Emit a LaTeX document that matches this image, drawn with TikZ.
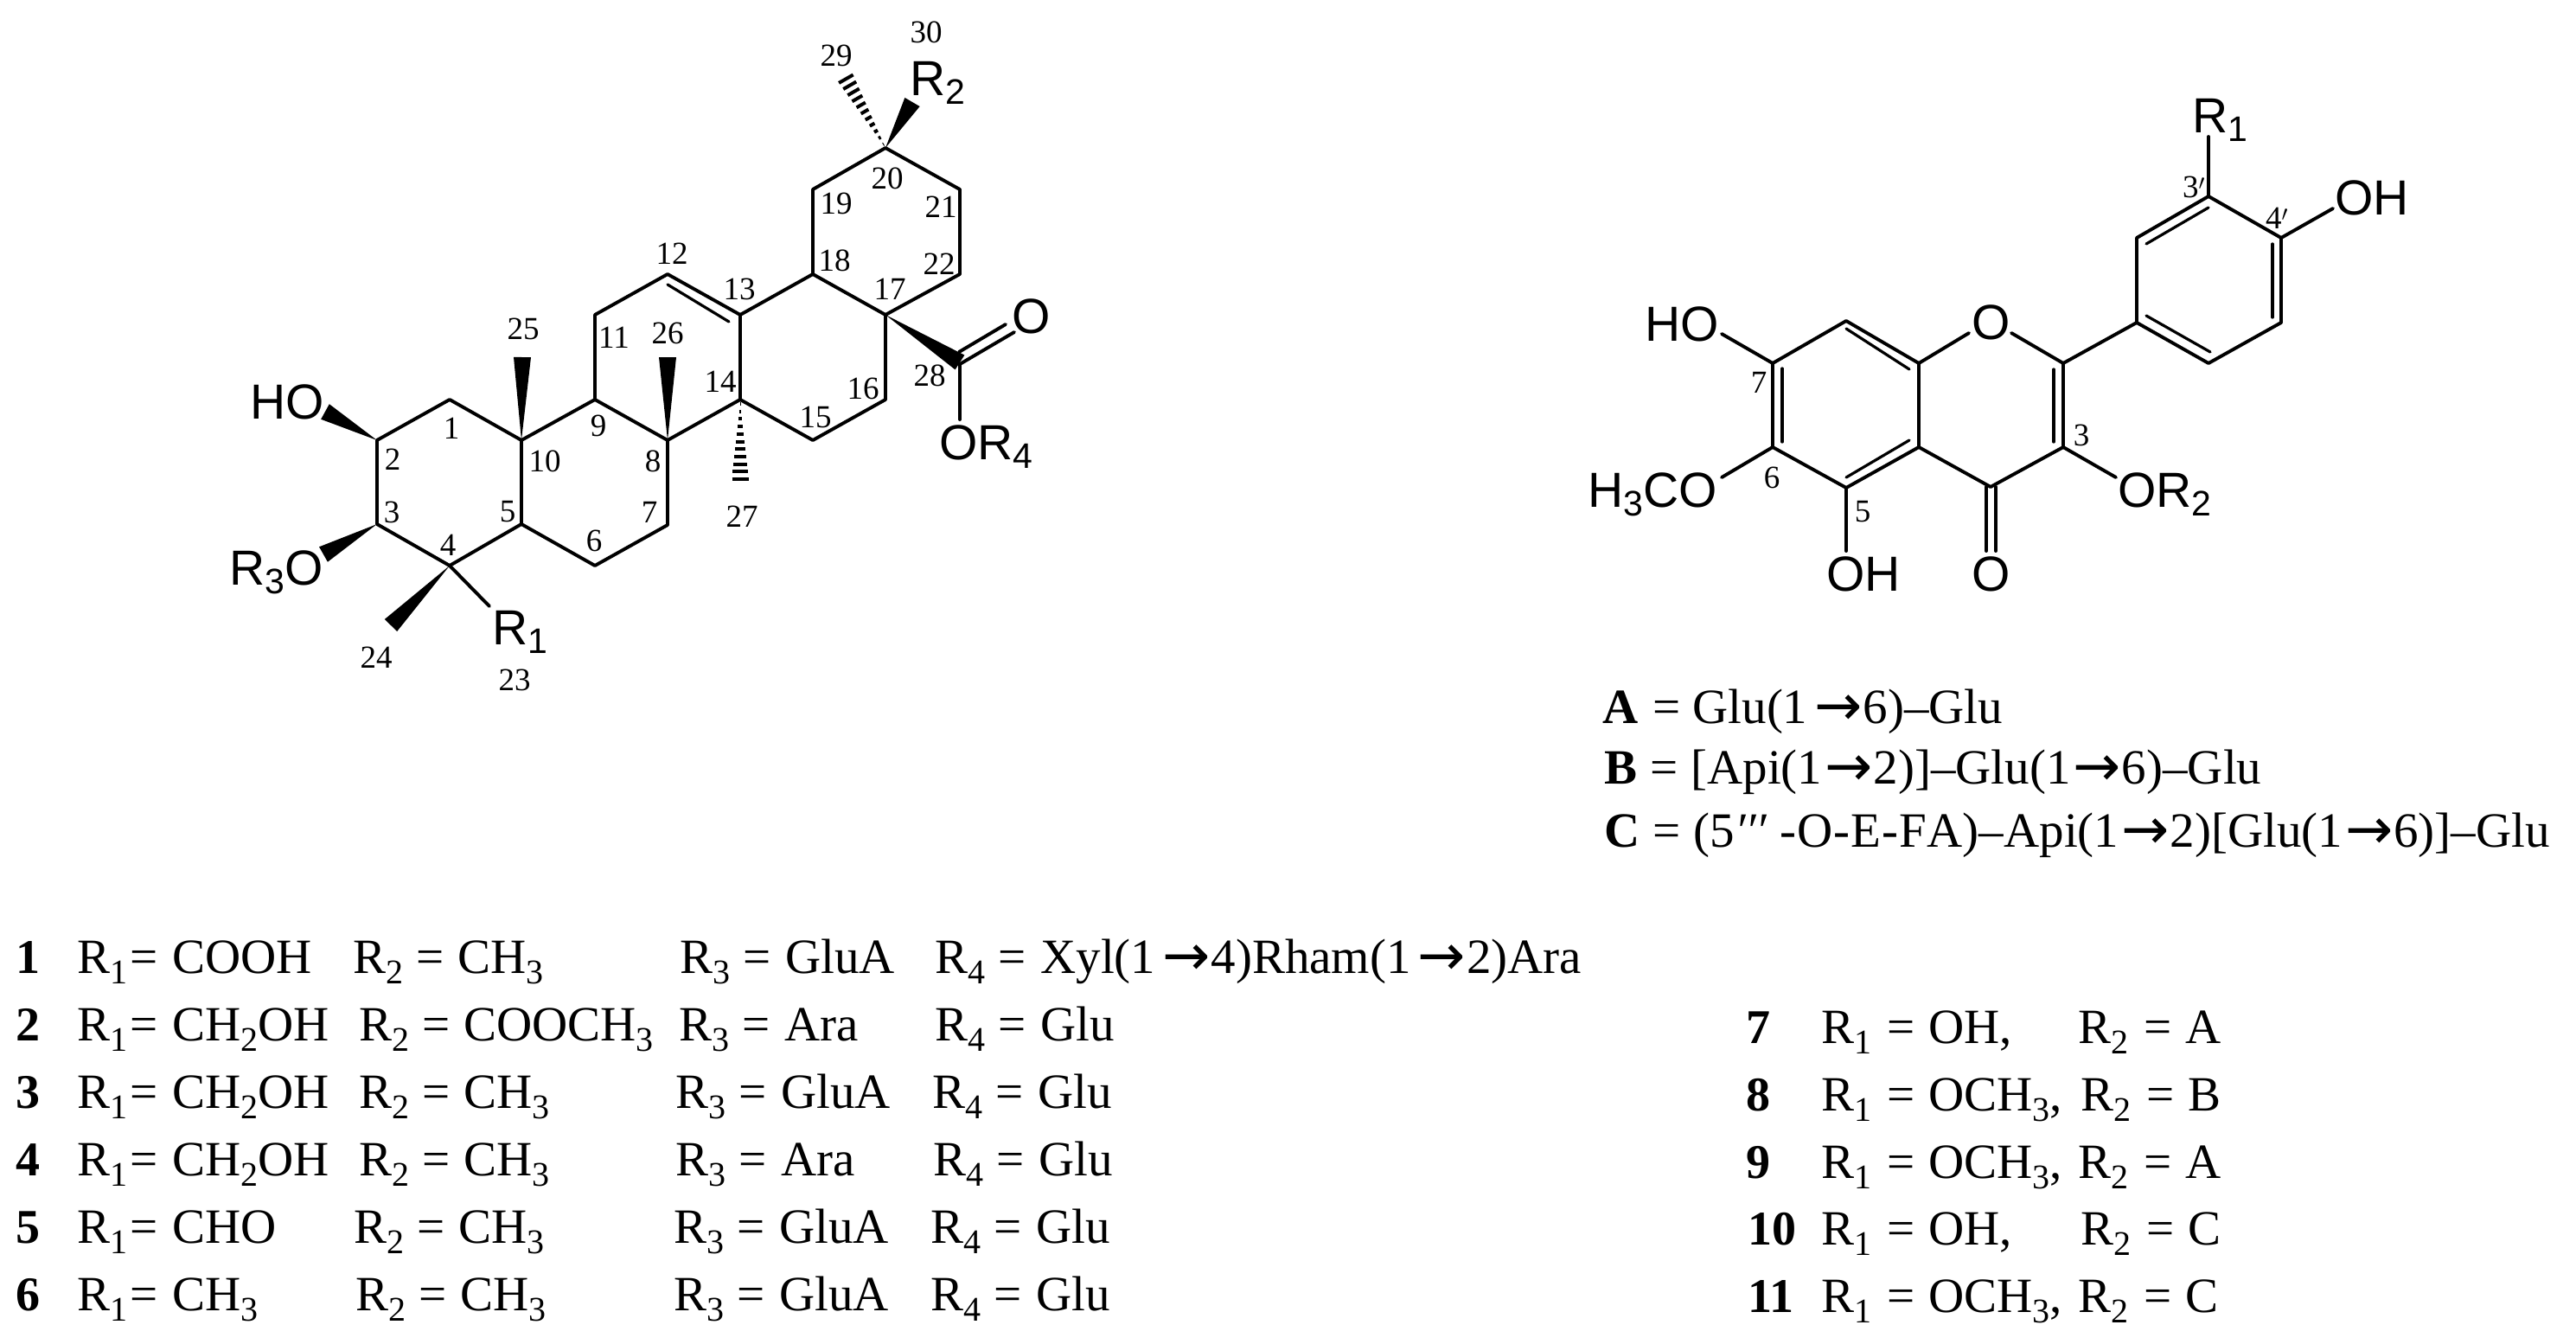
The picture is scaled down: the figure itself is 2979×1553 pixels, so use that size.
\documentclass[tikz,border=0pt]{standalone}
\usepackage{fontspec}
\setmainfont{Liberation Serif}
\setsansfont{Liberation Sans}
\newfontfamily\arrfont{DejaVu Sans}
\usetikzlibrary{calc}
\newcommand{\lsub}[1]{\raisebox{-12pt}{\fontsize{40}{40}\selectfont #1}}
\newcommand{\ssub}[1]{\raisebox{-10pt}{\fontsize{41}{41}\selectfont #1}}
\newcommand{\arr}{\kern 3pt{\arrfont\fontsize{66}{66}\selectfont \raisebox{-2pt}{→}}\kern 1pt\relax}
\newcommand{\eqq}{\kern 15pt=\kern 16pt\relax}
\newcommand{\deq}{\kern 17pt=\kern 17pt\relax}
\tikzset{
  x=1pt,y=-1pt,
  bond/.style={line width=3.9pt,line cap=round,line join=round,black},
  inner/.style={line width=3.2pt,line cap=round,black},
  atomlab/.style={anchor=base west,inner sep=0pt,font=\sffamily\fontsize{57}{60}\selectfont},
  numlab/.style={inner sep=0pt,font=\fontsize{37}{40}\selectfont},
  txt/.style={anchor=base west,inner sep=0pt,font=\fontsize{57}{60}\selectfont},
  btxt/.style={anchor=base west,inner sep=0pt,font=\bfseries\fontsize{56}{60}\selectfont},
}
\newcommand{\wedgebond}[3]{\fill[black] (#1) -- ($(#2)!#3pt!90:(#1)$) -- ($(#2)!#3pt!-90:(#1)$) -- cycle;}
\newcommand{\hashbond}[3]{\foreach \t in {0.05,0.14,...,1.02}{\draw[line width=4pt,black] ($(#1)!\t!($(#2)!#3pt!90:(#1)$)$) -- ($(#1)!\t!($(#2)!#3pt!-90:(#1)$)$);}}
\begin{document}
\begin{tikzpicture}
\useasboundingbox (0,0) rectangle (2979,1553);
% ---- triterpene atoms
\foreach \n/\p in {a1/{520,462},a2/{436,509},a3/{436,606},a4/{520,654},a5/{603,606},a6/{688,654},a7/{772,607},a8/{772,509},a9/{688,462},a10/{603,509},a11/{688,364},a12/{772,317},a13/{856,364},a14/{856,462},a15/{940,509},a16/{1024,462},a17/{1024,364},a18/{940,317},a19/{940,219},a20/{1024,171},a21/{1110,219},a22/{1110,317},a28/{1110,421},
  m25/{604,413},m26/{772,413},m27/{856,559},m29/{976,87},m30/{1055,118},mho/{376,476},mro/{374,641},m24/{452,723},mr1/{566,701},mor/{1110,485},
  i12/{772,329},i13/{843,372},oa/{1109,407},ob/{1163,375},oc/{1110,421},od/{1173,384},we/{1110,419}}
  {\coordinate (\n) at (\p);}
\draw[bond] (a1)--(a2)--(a3)--(a4)--(a5)--(a10)--(a1);
\draw[bond] (a5)--(a6)--(a7)--(a8)--(a9)--(a10);
\draw[bond] (a9)--(a11)--(a12)--(a13)--(a14)--(a8);
\draw[bond] (a14)--(a15)--(a16)--(a17)--(a18)--(a13);
\draw[bond] (a18)--(a19)--(a20)--(a21)--(a22)--(a17);
\draw[inner] (i12)--(i13);
\draw[bond] (a4)--(mr1);
\draw[bond] (a28)--(mor);
\draw[bond] (oa)--(ob);
\draw[bond] (oc)--(od);
\wedgebond{a10}{m25}{10}
\wedgebond{a8}{m26}{10}
\wedgebond{a2}{mho}{10}
\wedgebond{a3}{mro}{10}
\wedgebond{a4}{m24}{10}
\wedgebond{a20}{m30}{10}
\wedgebond{a17}{we}{10}
\hashbond{a14}{m27}{10}
\hashbond{a20}{m29}{10}
% ---- triterpene labels
\node[atomlab] (lho) at (289,484) {HO};
\node[atomlab] (lr3o) at (265,676) {R\ssub{3}O};
\node[atomlab] (lr1) at (569,745) {R\ssub{1}};
\node[atomlab] (lr2) at (1052,110) {R\ssub{2}};
\node[atomlab] (lo) at (1170,385) {O};
\node[atomlab] (lor4) at (1086,531) {OR\ssub{4}};
\foreach \n/\p in {1/{522,495},2/{454,531},3/{453,592},4/{518,630},5/{587,592},6/{687,625},7/{751,592},8/{755,533},9/{692,492},10/{630,533},11/{710,390},12/{777,293},13/{855,334},14/{833,441},15/{943,482},16/{998,449},17/{1029,334},18/{965,301},19/{967,235},20/{1026,206},21/{1088,239},22/{1086,305},23/{595,786},24/{435,760},25/{605,380},26/{772,385},27/{858,597},28/{1075,434},29/{967,64},30/{1071,37}}
  {\node[numlab] (num\n) at (\p) {\n};}
% ---- flavonoid atoms
\foreach \n/\p in {b3p/{2554,227},b4p/{2638,275},b5p/{2638,373},b6p/{2554,420},b1p/{2471,373},b2p/{2471,275},b2/{2386,420},b3/{2386,517},b4/{2302,563},b4a/{2219,517},b8a/{2219,420},b8/{2135,371},b7/{2050,420},b6/{2050,517},b5/{2135,564},
  oe1/{2277,385},oe2/{2326,385},er1/{2554,158},eoh/{2698,241},eho/{1991,386},eme/{1991,552},eoh5/{2135,637},eor/{2447,552},co1/{2297,563},co2/{2308,563},co3/{2297,637},co4/{2308,637},
  j1/{2482,282},j2/{2554,240},j3/{2628,282},j4/{2628,367},j5/{2482,365},j6/{2556,407},j7/{2135,380},j8/{2208,427},j9/{2061,426},j10/{2061,511},j11/{2135,552},j12/{2208,509},j13/{2375,427},j14/{2375,511}}
  {\coordinate (\n) at (\p);}
\draw[bond] (b1p)--(b2p)--(b3p)--(b4p)--(b5p)--(b6p)--(b1p)--(b2);
\draw[bond] (oe2)--(b2)--(b3)--(b4)--(b4a)--(b8a)--(oe1);
\draw[bond] (b8a)--(b8)--(b7)--(b6)--(b5)--(b4a);
\draw[bond] (b3p)--(er1);
\draw[bond] (b4p)--(eoh);
\draw[bond] (b7)--(eho);
\draw[bond] (b6)--(eme);
\draw[bond] (b5)--(eoh5);
\draw[bond] (b3)--(eor);
\draw[bond] (co1)--(co3);
\draw[bond] (co2)--(co4);
\draw[inner] (j1)--(j2);
\draw[inner] (j3)--(j4);
\draw[inner] (j5)--(j6);
\draw[inner] (j7)--(j8);
\draw[inner] (j9)--(j10);
\draw[inner] (j11)--(j12);
\draw[inner] (j13)--(j14);
\node[atomlab] (fr1) at (2535,153) {R\ssub{1}};
\node[atomlab] (foh) at (2700,248) {OH};
\node[atomlab] (fho) at (1902,394) {HO};
\node[atomlab] (fome) at (1836,586) {H\ssub{3}CO};
\node[atomlab] (foh5) at (2112,683) {OH};
\node[atomlab] (fo4) at (2280,683) {O};
\node[atomlab] (for) at (2449,586) {OR\ssub{2}};
\node[atomlab] (fo1) at (2280,392) {O};
\foreach \n/\t/\p in {f3p/3$'$/{2537,216},f4p/4$'$/{2633,252},f7/7/{2034,442},f3/3/{2407,503},f6/6/{2049,552},f5/5/{2154,592}}
  {\node[numlab] (\n) at (\p) {\t};}
% ---- sugar definitions
\node[txt] (da) at (1853,836) {\textbf{A}\kern 17pt=\kern 14pt\relax Glu(1\kern 5pt\arr 6)–Glu};
\node[txt] (db) at (1855,906) {\textbf{B}\kern 15pt=\kern 15pt\relax [Api(1\arr 2)]–Glu(1\arr 6)–Glu};
\node[txt] (dc) at (1855,979) {\textbf{C}\kern 15pt=\kern 15pt\relax (5\textit{′′′}\kern 14pt-\kern 1pt O\kern 1pt-\kern 1pt E\kern 1pt-\kern 1pt F\kern 1pt A)–Api(1\arr 2)[Glu(1\arr 6)]–Glu};
% ---- left table
\foreach \k/\y/\ra/\xb/\rb/\xc/\rc/\xd/\rd in {
  1/1125/COOH/408/CH\lsub{3}/786/GluA/1081/{Xyl(1\kern 5pt\arr 4)Rham(1\kern 5pt\arr 2)Ara},
  2/1203/CH\lsub{2}OH/415/COOCH\lsub{3}/785/Ara/1081/Glu,
  3/1281/CH\lsub{2}OH/415/CH\lsub{3}/781/GluA/1078/Glu,
  4/1359/CH\lsub{2}OH/415/CH\lsub{3}/781/Ara/1079/Glu,
  5/1437/CHO/409/CH\lsub{3}/779/GluA/1076/Glu,
  6/1515/CH\lsub{3}/411/CH\lsub{3}/779/GluA/1076/Glu}
{
  \node[btxt] (k\k) at (18,\y) {\k};
  \node[txt] (ra\k) at (89,\y) {R\lsub{1}\kern 3pt=\kern 17pt\relax\ra};
  \node[txt] (rb\k) at (\xb,\y) {R\lsub{2}\eqq\rb};
  \node[txt] (rc\k) at (\xc,\y) {R\lsub{3}\kern 15pt=\kern 17pt\relax\rc};
  \node[txt] (rd\k) at (\xd,\y) {R\lsub{4}\kern 15pt=\kern 17pt\relax\rd};
}
% ---- right table
\foreach \k/\kx/\y/\ra/\xb/\rb in {
  7/2019/1206/{OH,}/2403/A,
  8/2019/1284/{OCH\lsub{3},}/2406/B,
  9/2019/1362/{OCH\lsub{3},}/2403/A,
  10/2021/1439/{OH,}/2406/C,
  11/2021/1517/{OCH\lsub{3},}/2403/C}
{
  \node[btxt] (k\k) at (\kx,\y) {\k};
  \node[txt] (sa\k) at (2106,\y) {R\lsub{1}\kern 18pt=\kern 16pt\relax\ra};
  \node[txt] (sb\k) at (\xb,\y) {R\lsub{2}\kern 18pt=\kern 16pt\relax\rb};
}
\end{tikzpicture}
\end{document}
